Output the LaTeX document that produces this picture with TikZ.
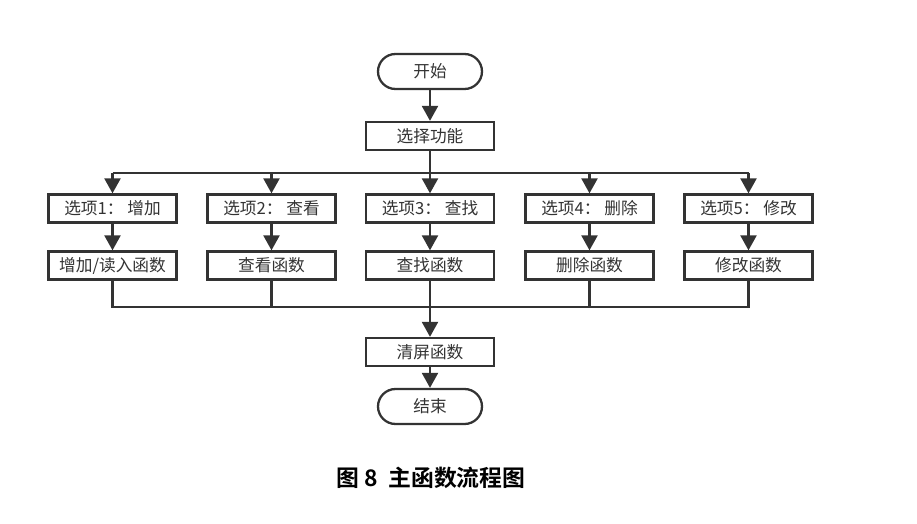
\documentclass[tikz,border=0pt]{standalone}
\usepackage{fontspec}
\setmainfont{Noto Sans CJK SC}
\newfontfamily\capfont{Noto Sans CJK SC Bold}
\usetikzlibrary{arrows.meta}
\definecolor{ink}{HTML}{333333}

\begin{document}
\begin{tikzpicture}[x=0.02cm, y=-0.02cm, font=\fontsize{9.5}{11}\selectfont,
  box/.style={draw=ink, line width=1.3pt, text=ink, minimum width=2.56cm,
    minimum height=0.56cm, inner sep=0pt},
  term/.style={box, rounded corners=0.35cm, minimum width=2.08cm, minimum height=0.7cm},
  line/.style={draw=ink, line width=1.5pt},
  arr/.style={line, -{Triangle[length=8.5pt, width=9pt]}}]

  \useasboundingbox (0,0) rectangle (917,524);

  % Start and menu
  \node[term] (start) at (430,71.5) {开始};
  \node[box] (sel) at (430,136) {选择功能};
  \draw[arr] (start) -- (sel);

  % Options and their functions
  \node[box] (o1) at (112.5,208.5) {选项1： 增加};
  \node[box] (o2) at (271.5,208.5) {选项2： 查看};
  \node[box] (o3) at (430,208.5) {选项3： 查找};
  \node[box] (o4) at (589.5,208.5) {选项4： 删除};
  \node[box] (o5) at (748.5,208.5) {选项5： 修改};

  \node[box] (f1) at (112.5,265.5) {增加/读入函数};
  \node[box] (f2) at (271.5,265.5) {查看函数};
  \node[box] (f3) at (430,265.5) {查找函数};
  \node[box] (f4) at (589.5,265.5) {删除函数};
  \node[box] (f5) at (748.5,265.5) {修改函数};

  \coordinate (split) at (430,173);
  \coordinate (merge) at (430,307);

  \draw[line] (sel) -- (split);
  \draw[line] (o1.north |- split) -- (o5.north |- split);
  \foreach \i in {1,...,5} {
    \draw[arr] (o\i.north |- split) -- (o\i);
    \draw[arr] (o\i) -- (f\i);
  }
  \draw[line] (f1.south) -- (f1.south |- merge) -- (f5.south |- merge) -- (f5.south);
  \draw[line] (f2.south) -- (f2.south |- merge);
  \draw[line] (f4.south) -- (f4.south |- merge);

  % Clear screen and end
  \node[box] (clr) at (430,352) {清屏函数};
  \node[term] (stop) at (430,406.5) {结束};
  \draw[arr] (f3) -- (clr);
  \draw[arr] (clr) -- (stop);

  % Caption
  \node[font=\capfont\fontsize{13}{15}\selectfont] (cap) at (431,478) {图 8\ \ 主函数流程图};
\end{tikzpicture}
\end{document}
